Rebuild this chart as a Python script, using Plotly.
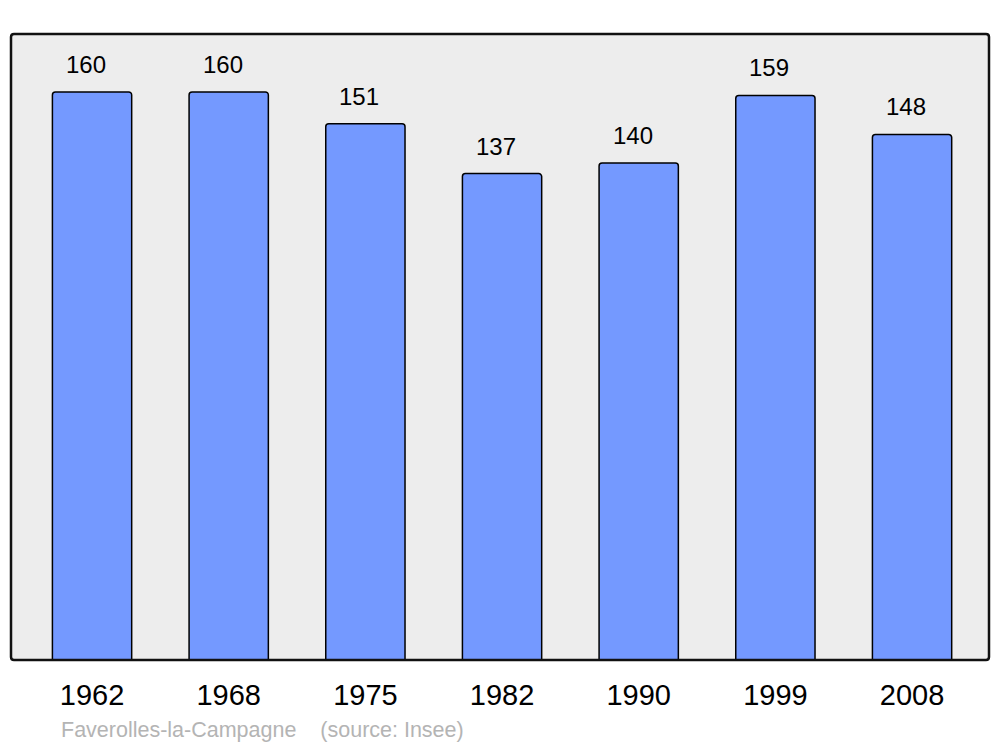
import plotly.graph_objects as go

years = ["1962", "1968", "1975", "1982", "1990", "1999", "2008"]
population = [160, 160, 151, 137, 140, 159, 148]
source_text = "Faverolles-la-Campagne    (source: Insee)"

# page body has an 8px margin, so the figure is offset by 8px
OFF = 8
W, H = 1000 - OFF, 747 - OFF
L, R, T, B = 11 - OFF, 11, 34 - OFF, 87
PW, PH = W - L - R, H - T - B

fig = go.Figure()
fig.add_trace(go.Bar(
    x=list(range(len(years))), y=population,
    width=0.58,
    marker=dict(color="#7499FF", line=dict(color="#000000", width=1.5), cornerradius=3),
    hoverinfo="skip",
))

for i, v in enumerate(population):
    fig.add_annotation(x=i, y=v, text=str(v), showarrow=False, yanchor="bottom",
                       yshift=12, xshift=-6,
                       font=dict(family="Liberation Sans, Arial", size=24, color="#000"))

# rounded border of plot area (paper coords)
rx, ry = 3 / PW, 3 / PH
path = (f"M {rx},0 L {1-rx},0 Q 1,0 1,{ry} L 1,{1-ry} Q 1,1 {1-rx},1 "
        f"L {rx},1 Q 0,1 0,{1-ry} L 0,{ry} Q 0,0 {rx},0 Z")
fig.add_shape(type="path", path=path, xref="paper", yref="paper",
              line=dict(color="#111111", width=2.5), layer="above")

fig.add_annotation(text=source_text, xref="paper", yref="paper", x=48 / PW, y=0,
                   xanchor="left", yanchor="middle", yshift=-(730 - 660), showarrow=False,
                   font=dict(family="Liberation Sans, Arial", size=21.5, color="#b4b4b4"))

fig.update_layout(
    width=W, height=H,
    margin=dict(l=L, r=R, t=T, b=B, pad=0),
    paper_bgcolor="#ffffff", plot_bgcolor="#ededed",
    showlegend=False,
    xaxis=dict(range=[-0.593, 6.563], showgrid=False, zeroline=False,
               tickmode="array", tickvals=list(range(len(years))), ticktext=years,
               showline=False, ticks="", ticklabelstandoff=15,
               tickfont=dict(family="Liberation Sans, Arial", size=29, color="#000")),
    yaxis=dict(range=[0, 176.3], showgrid=False, zeroline=False, showticklabels=False, ticks="", showline=False),
)

fig.write_html("out.html")
